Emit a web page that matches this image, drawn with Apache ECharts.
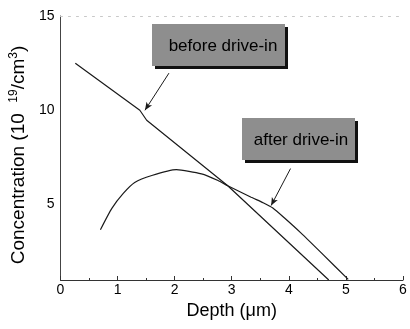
<!DOCTYPE html>
<html>
<head>
<meta charset="utf-8">
<script src="https://cdn.jsdelivr.net/npm/echarts@6/dist/echarts.min.js"></script>
<style>
  html, body { margin: 0; padding: 0; background: #fff; }
  #chart { width: 410px; height: 329px; }
</style>
</head>
<body>
<div id="chart"></div>
<script>
// depth (um) / concentration (1e19 cm^-3)
var beforeDepth = [0.26, 1.39, 1.51, 2.93, 4.7];
var beforeConc  = [12.5, 10.0, 9.47, 6.0, 1.0];
var afterDepth = [0.7, 0.9, 1.1, 1.3, 1.6, 2.03, 2.47, 2.76, 2.93, 3.34, 3.55, 3.72, 3.92, 4.21, 4.61, 5.04];
var afterConc  = [3.67, 4.8, 5.59, 6.17, 6.54, 6.85, 6.63, 6.28, 6.0, 5.39, 5.1, 4.82, 4.3, 3.5, 2.32, 1.03];
var xTicks = [0, 1, 2, 3, 4, 5, 6];
var yLabels = [5, 10, 15];

var font = '"Liberation Sans Narrow", "Liberation Sans", Arial, sans-serif';

function pairs(xs, ys) {
  return xs.map(function (x, i) { return [x, ys[i]]; });
}

var chart = echarts.init(document.getElementById('chart'));

var arrowLine = {
  silent: true,
  symbol: ['none', 'arrow'],
  symbolSize: [5, 8],
  label: { show: false },
  lineStyle: { color: '#1a1a1a', width: 1, type: 'solid' }
};

var option = {
  animation: false,
  grid: { left: 58, right: 7, top: 16, bottom: 49 },
  xAxis: [{
    type: 'value',
    min: xTicks[0],
    max: xTicks[xTicks.length - 1],
    interval: 1,
    name: 'Depth (\u03bcm)',
    nameLocation: 'middle',
    nameGap: 8,
    nameTextStyle: { fontFamily: font, fontSize: 18, color: '#000', verticalAlign: 'top' },
    axisLine: { lineStyle: { color: '#333', width: 1 } },
    axisTick: { inside: true, length: 4, lineStyle: { color: '#333' } },
    minorTick: { show: true, splitNumber: 2, length: 2, lineStyle: { color: '#333' } },
    axisLabel: { fontFamily: font, fontSize: 14, color: '#000', margin: 3 },
    splitLine: { show: false }
  }, {
    type: 'value',
    position: 'top',
    min: 0, max: 6,
    axisLine: { show: true, lineStyle: { color: '#c8c8c8', type: [2, 6] } },
    axisTick: { show: false },
    axisLabel: { show: false },
    splitLine: { show: false }
  }],
  yAxis: {
    type: 'value',
    min: 1,
    max: 15,
    interval: 1,
    name: 'Concentration (10  {sup|19}/cm{sup|3})',
    nameLocation: 'middle',
    nameGap: 13,
    nameTextStyle: {
      fontFamily: font, fontSize: 19, color: '#000',
      padding: [0, 14, 0, 0],
      rich: { sup: { fontFamily: font, fontSize: 12, color: '#000', verticalAlign: 'top', padding: [0, 0, 9, 0] } }
    },
    axisLine: { show: true, lineStyle: { color: '#444', width: 1 } },
    axisTick: { show: false },
    axisLabel: {
      fontFamily: font, fontSize: 14, color: '#000', margin: 6,
      formatter: function (v) { return yLabels.indexOf(v) >= 0 ? String(v) : ''; }
    },
    splitLine: { show: false }
  },
  series: [{
    name: 'before drive-in',
    type: 'line',
    data: pairs(beforeDepth, beforeConc),
    showSymbol: false,
    lineStyle: { color: '#1a1a1a', width: 1.2 },
    markLine: Object.assign({ data: [[{ coord: [1.9, 11.97] }, { coord: [1.48, 10.0] }]] }, arrowLine)
  }, {
    name: 'after drive-in',
    type: 'line',
    data: pairs(afterDepth, afterConc),
    smooth: 0.2,
    showSymbol: false,
    lineStyle: { color: '#1a1a1a', width: 1.2 },
    markLine: Object.assign({ data: [[{ coord: [4.03, 6.91] }, { coord: [3.69, 4.95] }]] }, arrowLine)
  }],
  graphic: [{
    type: 'group', left: 152, top: 24,
    children: [
      { type: 'rect', shape: { x: 3, y: 3, width: 133, height: 42 }, style: { fill: '#111' } },
      { type: 'rect', shape: { x: 0, y: 0, width: 133, height: 42 }, style: { fill: '#8e8e8e' } },
      { type: 'text', x: 71, y: 22, style: { text: 'before drive-in', fontFamily: font, fontSize: 17, fill: '#000', align: 'center', verticalAlign: 'middle' } }
    ]
  }, {
    type: 'group', left: 242, top: 118,
    children: [
      { type: 'rect', shape: { x: 3, y: 3, width: 113, height: 42 }, style: { fill: '#111' } },
      { type: 'rect', shape: { x: 0, y: 0, width: 113, height: 42 }, style: { fill: '#8e8e8e' } },
      { type: 'text', x: 59, y: 22, style: { text: 'after drive-in', fontFamily: font, fontSize: 17, fill: '#000', align: 'center', verticalAlign: 'middle' } }
    ]
  }]
};

chart.setOption(option);
</script>
</body>
</html>
